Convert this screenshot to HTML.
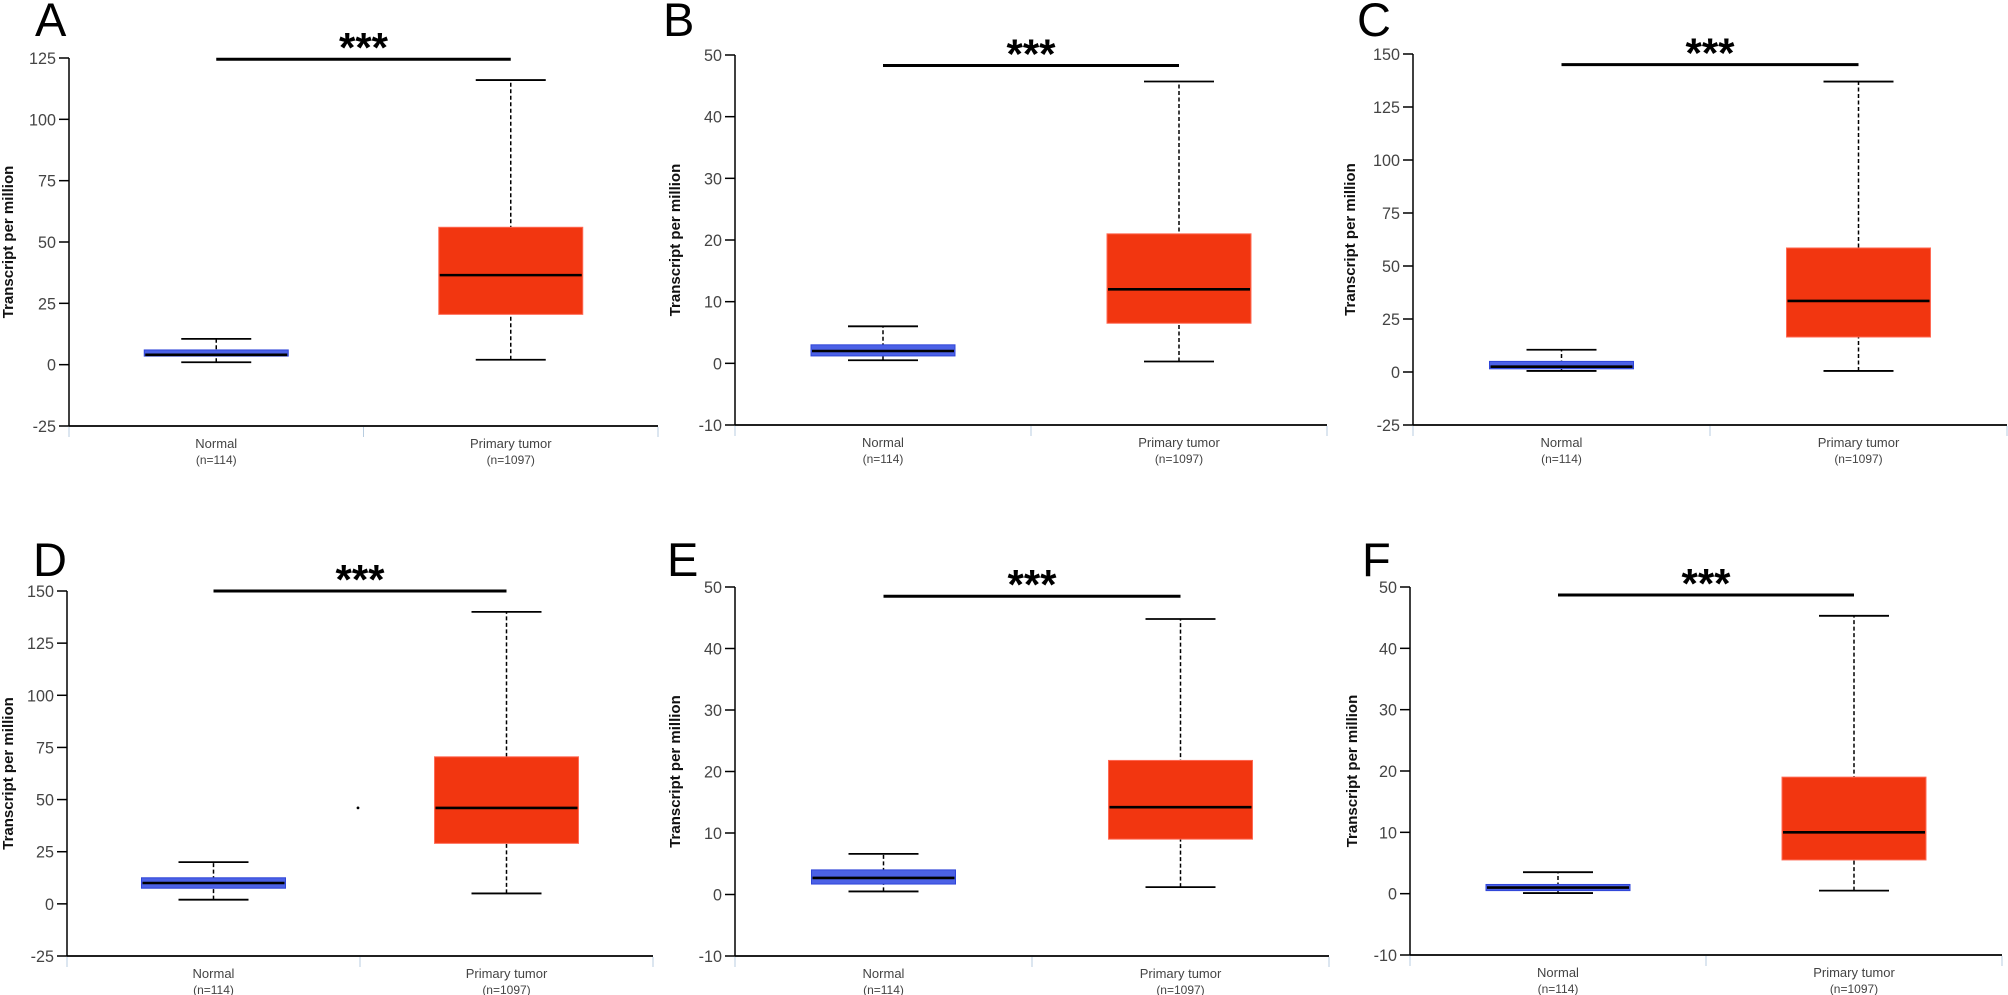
<!DOCTYPE html>
<html><head><meta charset="utf-8"><style>
html,body{margin:0;padding:0;background:#fff;overflow:hidden;}
svg{display:block;font-family:"Liberation Sans",sans-serif;}
</style></head><body>
<svg id="fig" width="2008" height="995" viewBox="0 0 2008 995" xmlns="http://www.w3.org/2000/svg"></svg>
<script>
// ---- data ----
const panelLetters = ["A","B","C","D","E","F"];
const categories = ["Normal","Primary tumor"];
const sampleSizes = ["(n=114)","(n=1097)"];
const ticksA = [-25,0,25,50,75,100,125];
const ticksB = [-10,0,10,20,30,40,50];
const ticksC = [-25,0,25,50,75,100,125,150];
const ticksD = [-25,0,25,50,75,100,125,150];
const ticksE = [-10,0,10,20,30,40,50];
const ticksF = [-10,0,10,20,30,40,50];
// [low whisker, q1, median, q3, high whisker]
const normalA = [1,3.5,4,6,10.5];
const tumorA  = [2,20.5,36.5,56,116];
const normalB = [0.5,1.2,2,3,6];
const tumorB  = [0.3,6.5,12,21,45.7];
const normalC = [0.5,1.5,2.5,5,10.5];
const tumorC  = [0.5,16.5,33.5,58.5,137];
const normalD = [2,7.5,10,12.5,20];
const tumorD  = [5,29,46,70.5,140];
const normalE = [0.5,1.7,2.7,4,6.6];
const tumorE  = [1.2,9,14.2,21.8,44.8];
const normalF = [0.1,0.5,1,1.5,3.5];
const tumorF  = [0.5,5.5,10,19,45.3];
const sigValues = [124.5,48.3,145,150,48.5,48.7];
const outliersD = [46];

// ---- layout ----
const layouts = [
 {ax:69,  right:658,  top:58,  bot:426, tx:8,    lx:35,   ly:36},
 {ax:735, right:1327, top:55,  bot:425, tx:675,  lx:663,  ly:36},
 {ax:1413,right:2007, top:54,  bot:425, tx:1350, lx:1357, ly:36},
 {ax:67,  right:653,  top:591, bot:956, tx:8,    lx:33,   ly:576},
 {ax:735, right:1329, top:587, bot:956, tx:675,  lx:667,  ly:576},
 {ax:1410,right:2002, top:587, bot:955, tx:1352, lx:1362, ly:576}
];
const allTicks=[ticksA,ticksB,ticksC,ticksD,ticksE,ticksF];
const allNormal=[normalA,normalB,normalC,normalD,normalE,normalF];
const allTumor=[tumorA,tumorB,tumorC,tumorD,tumorE,tumorF];

const NS="http://www.w3.org/2000/svg";
const svg=document.getElementById('fig');
function mk(tag,attrs,parent,txt){const e=document.createElementNS(NS,tag);for(const k in attrs)e.setAttribute(k,attrs[k]);if(txt!==undefined)e.textContent=txt;(parent||svg).appendChild(e);return e;}

layouts.forEach((L,i)=>{
  const ticks=allTicks[i];
  const tmin=ticks[0],tmax=ticks[ticks.length-1];
  const y=v=>L.bot-(v-tmin)/(tmax-tmin)*(L.bot-L.top);
  const w=L.right-L.ax;
  const cx=[L.ax+w*0.25,L.ax+w*0.75];
  const g=mk('g',{});
  
  

  const letter=mk('text',{x:L.lx,y:L.ly,'font-size':47,fill:'#000'},g,panelLetters[i]);
  
  

  const yaxis=mk('line',{x1:L.ax,y1:L.top,x2:L.ax,y2:L.bot,stroke:'#000','stroke-width':1.5},g);
  
  
  ticks.forEach(t=>{
    const tk=mk('line',{x1:L.ax-10,y1:y(t),x2:L.ax,y2:y(t),stroke:'#000','stroke-width':1.5},g);
    
    
    const xx=L.ax-13;
    const tl=mk('text',{x:xx,y:y(t)+6,'font-size':17,fill:'#444','text-anchor':'end',transform:`translate(${xx},0) scale(0.95,1) translate(${-xx},0)`},g,String(t));
    
    
  });
  const xaxis=mk('line',{x1:L.ax,y1:L.bot,x2:L.right,y2:L.bot,stroke:'#000','stroke-width':1.8},g);
  
  
  [L.ax,L.ax+w/2,L.right].forEach(x=>{
    const s=mk('line',{x1:x,y1:L.bot+1,x2:x,y2:L.bot+11,stroke:'#b8cde0','stroke-width':1},g);
    
    
  });
  const ty=(L.top+L.bot)/2;
  const yt=mk('text',{x:L.tx+5,y:ty,'font-size':15,'font-weight':'bold',fill:'#111','text-anchor':'middle',transform:`rotate(-90 ${L.tx+5} ${ty})`},g,'Transcript per million');
  
  

  categories.forEach((c,k)=>{
    const t1=mk('text',{x:cx[k],y:L.bot+22,'font-size':13,fill:'#444','text-anchor':'middle'},g,c);
    
    
    const t2=mk('text',{x:cx[k],y:L.bot+38,'font-size':12,fill:'#444','text-anchor':'middle'},g,sampleSizes[k]);
    
    
  });

  [allNormal[i],allTumor[i]].forEach((d,k)=>{
    const x=cx[k];
    const fill=k===0?'#4b61e6':'#f23610';
    const edge=k===0?'#2f45d8':'#ff6a55';
    const bg=mk('g',{},g);
    
    
    mk('line',{x1:x,y1:y(d[0]),x2:x,y2:y(d[4]),stroke:'#000','stroke-width':1.5,'stroke-dasharray':'4,2.5'},bg);
    mk('line',{x1:x-35,y1:y(d[4]),x2:x+35,y2:y(d[4]),stroke:'#000','stroke-width':1.8},bg);
    mk('line',{x1:x-35,y1:y(d[0]),x2:x+35,y2:y(d[0]),stroke:'#000','stroke-width':1.8},bg);
    mk('rect',{x:x-72,y:y(d[3]),width:144,height:Math.max(y(d[1])-y(d[3]),2),fill:fill,stroke:edge,'stroke-width':1},bg);
    mk('line',{x1:x-71,y1:y(d[2]),x2:x+71,y2:y(d[2]),stroke:'#000','stroke-width':2.6},bg);
  });

  if(i===3){
    outliersD.forEach(v=>{
      const o=mk('circle',{cx:L.ax+w*0.5-2,cy:y(v),r:1.4,fill:'#000'},g);
      
      
    });
  }

  const sy=y(sigValues[i]);
  const sl=mk('line',{x1:cx[0],y1:sy,x2:cx[1],y2:sy,stroke:'#000','stroke-width':3},g);
  
  
  const st=mk('text',{x:(cx[0]+cx[1])/2,y:sy+3,'font-size':42,'font-weight':'bold',fill:'#000','text-anchor':'middle'},g,'***');
  
  
});
</script>
</body></html>
